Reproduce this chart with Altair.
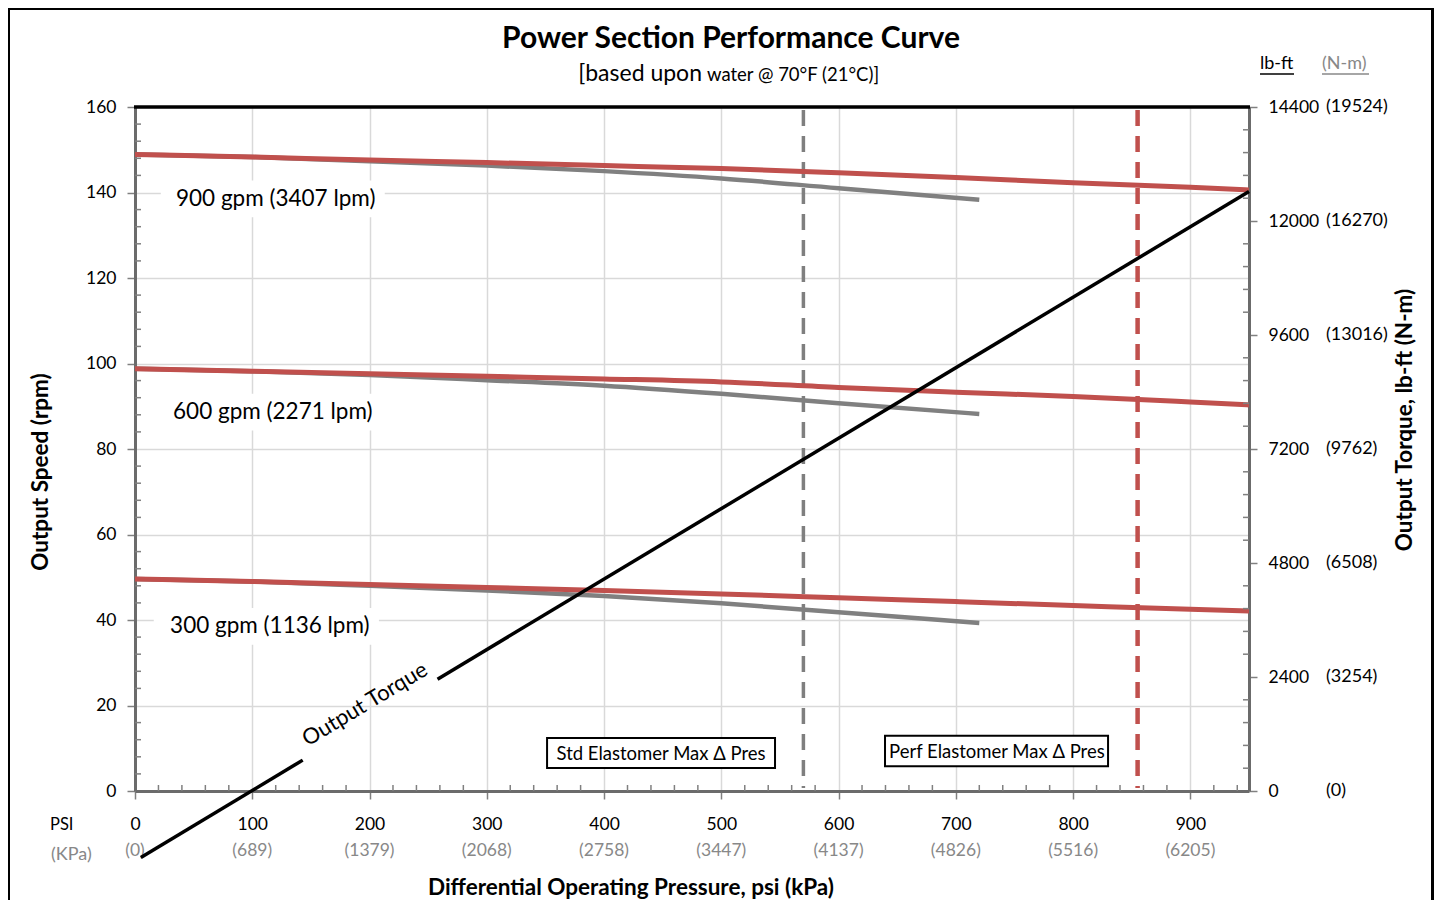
import altair as alt
import pandas as pd

# ---------------- data ----------------
psi_perf = [0, 100, 200, 300, 400, 500, 600, 700, 800, 900, 950]
perf_900 = [148.9, 148.3, 147.6, 147.0, 146.3, 145.6, 144.6, 143.5, 142.3, 141.2, 140.6]
perf_600 = [98.8, 98.2, 97.6, 97.0, 96.4, 95.7, 94.4, 93.3, 92.3, 91.0, 90.3]
perf_300 = [49.6, 49.0, 48.3, 47.6, 46.9, 46.1, 45.2, 44.3, 43.4, 42.5, 42.1]

psi_std = [0, 100, 200, 300, 400, 500, 600, 720]
std_900 = [148.9, 148.3, 147.3, 146.3, 145.0, 143.3, 141.0, 138.3]
std_600 = [98.8, 98.2, 97.3, 96.1, 94.8, 92.9, 90.7, 88.2]
std_300 = [49.6, 49.0, 48.0, 46.9, 45.6, 43.9, 41.8, 39.3]

# torque line (lb-ft), drawn in two pieces around its label
torque_seg = ["a", "a", "b", "b"]
torque_psi = [5, 143, 258, 950]
torque_lbft = [-1400, 650, 2355, 12620]

gpm_labels = ["900 gpm (3407 lpm)", "600 gpm (2271 lpm)", "300 gpm (1136 lpm)"]
gpm_label_psi = [120, 117.5, 115]
gpm_label_rpm = [138.5, 88.6, 38.6]
gpm_box_psi = [(22, 213), (19, 210), (16, 208)]
gpm_box_rpm = [(134.2, 142.8), (84.3, 92.9), (34.2, 42.8)]

limit_names = ["Std Elastomer Max \u0394 Pres", "Perf Elastomer Max \u0394 Pres"]
limit_psi = [570, 855]
limit_colors = ["#7f7f7f", "#c0504d"]
limit_box_psi = [(351.4, 545.8), (639.6, 829.8)]
limit_box_rpm = [(5.4, 12.4), (5.8, 12.9)]
limit_text_psi = [448.6, 735]
limit_text_rpm = [8.6, 9.1]

psi_ticks = [0, 100, 200, 300, 400, 500, 600, 700, 800, 900]
kpa_labels = ["(0)", "(689)", "(1379)", "(2068)", "(2758)", "(3447)", "(4137)", "(4826)", "(5516)", "(6205)"]
rpm_ticks = [0, 20, 40, 60, 80, 100, 120, 140, 160]
torque_ticks = [0, 2400, 4800, 7200, 9600, 12000, 14400]
nm_labels = ["(0)", "(3254)", "(6508)", "(9762)", "(13016)", "(16270)", "(19524)"]

W, H = 1114, 684
FONT = "Lato"
RED = "#c0504d"
GRAY = "#808080"
LGRAY = "#888888"

# ---------------- tables ----------------
perf_df = pd.DataFrame({
    "psi": psi_perf * 3,
    "rpm": perf_900 + perf_600 + perf_300,
    "flow": ["900"] * len(psi_perf) + ["600"] * len(psi_perf) + ["300"] * len(psi_perf),
})
std_df = pd.DataFrame({
    "psi": psi_std * 3,
    "rpm": std_900 + std_600 + std_300,
    "flow": ["900"] * len(psi_std) + ["600"] * len(psi_std) + ["300"] * len(psi_std),
})
torque_df = pd.DataFrame({"seg": torque_seg, "psi": torque_psi, "tq": torque_lbft})
gpm_df = pd.DataFrame({
    "label": gpm_labels, "psi": gpm_label_psi, "rpm": gpm_label_rpm,
    "x1": [b[0] for b in gpm_box_psi], "x2": [b[1] for b in gpm_box_psi],
    "y1": [b[0] for b in gpm_box_rpm], "y2": [b[1] for b in gpm_box_rpm],
})
limit_df = pd.DataFrame({
    "name": limit_names, "psi": limit_psi, "color": limit_colors,
    "x1": [b[0] for b in limit_box_psi], "x2": [b[1] for b in limit_box_psi],
    "y1": [b[0] for b in limit_box_rpm], "y2": [b[1] for b in limit_box_rpm],
    "tx": limit_text_psi, "ty": limit_text_rpm,
})
kpa_df = pd.DataFrame({"psi": psi_ticks, "kpa": kpa_labels})
nm_df = pd.DataFrame({"tq": torque_ticks, "nm": nm_labels})
minor_psi_df = pd.DataFrame({"psi": [v for v in range(20, 950, 20) if v % 100]})
minor_rpm_df = pd.DataFrame({"rpm": [v for v in range(4, 160, 4) if v % 20]})
minor_tq_df = pd.DataFrame({"tq": [v for v in range(480, 14400, 480) if v % 2400]})
one = pd.DataFrame({"a": [0]})

xscale = alt.Scale(domain=[0, 950], nice=False, zero=False)
yscale = alt.Scale(domain=[0, 160], nice=False, zero=False)
tscale = alt.Scale(domain=[0, 14400], nice=False, zero=False)

x_axis = alt.Axis(
    values=psi_ticks, title=None, format="d", labelFont=FONT, labelFontSize=17.5,
    labelColor="black", labelBaseline="middle", labelPadding=25, labelFlush=False,
    labelOverlap=False, tickSize=8, tickColor=GRAY, tickWidth=1.5, domainColor="#6b6b6b",
    domainWidth=3, grid=True, gridColor="#d9d9d9", gridWidth=1.5,
)
y_axis = alt.Axis(
    values=rpm_ticks, title=None, format="d", labelFont=FONT, labelFontSize=17.5,
    labelColor="black", labelPadding=11, labelFlush=False, labelOverlap=False,
    tickSize=8, tickColor=GRAY, tickWidth=1.5, domainColor="#6b6b6b", domainWidth=3,
    grid=True, gridColor="#d9d9d9", gridWidth=1.5,
)
t_axis = alt.Axis(
    orient="right", values=torque_ticks, title=None, format="d", labelFont=FONT,
    labelFontSize=17.5, labelColor="black", labelAlign="left", labelPadding=11,
    labelFlush=False, labelOverlap=False, tickSize=8, tickColor=GRAY, tickWidth=1.5,
    domainColor="#6b6b6b", domainWidth=3, grid=False,
)


def X(f="psi"):
    return alt.X(f"{f}:Q", scale=xscale, axis=x_axis)


def Y(f="rpm"):
    return alt.Y(f"{f}:Q", scale=yscale, axis=y_axis)


def T(f="tq"):
    return alt.Y(f"{f}:Q", scale=tscale, axis=t_axis)


# ---------------- rpm group ----------------
label_boxes = alt.Chart(gpm_df).mark_rect(color="white").encode(
    x=X("x1"), x2="x2:Q", y=Y("y1"), y2="y2:Q",
)

limit_lines = alt.Chart(limit_df).mark_rule(strokeDash=[16, 10]).encode(
    x=X(), y=alt.value(3), y2=alt.value(H - 3),
    color=alt.Color("color:N", scale=None),
    strokeWidth=alt.condition("datum.psi > 700", alt.value(4.5), alt.value(3.5)),
)

std_lines = alt.Chart(std_df).mark_line(color=GRAY, strokeWidth=4.5, interpolate="monotone").encode(
    x=X(), y=Y(), detail="flow:N"
)
perf_lines = alt.Chart(perf_df).mark_line(color=RED, strokeWidth=5, interpolate="monotone").encode(
    x=X(), y=Y(), detail="flow:N"
)
gpm_text = alt.Chart(gpm_df).mark_text(font=FONT, fontSize=22.5, color="black").encode(
    x=X(), y=Y(), text="label:N"
)
limit_boxes = alt.Chart(limit_df).mark_rect(fill="white", stroke="black", strokeWidth=2).encode(
    x=X("x1"), x2="x2:Q", y=Y("y1"), y2="y2:Q"
)
limit_text = alt.Chart(limit_df).mark_text(font=FONT, fontSize=18.5, color="black").encode(
    x=X("tx"), y=Y("ty"), text="name:N"
)
torque_label = alt.Chart(pd.DataFrame({"t": ["Output Torque"], "psi": [196], "rpm": [20.3]})).mark_text(
    font=FONT, fontSize=22, color="black", angle=329
).encode(x=X(), y=Y(), text="t:N")

minor_x = alt.Chart(minor_psi_df).mark_rule(color=GRAY, strokeWidth=1.5).encode(
    x=X(), y=alt.value(H - 6), y2=alt.value(H)
)
minor_y = alt.Chart(minor_rpm_df).mark_rule(color=GRAY, strokeWidth=1.5).encode(
    y=Y(), x=alt.value(0), x2=alt.value(6)
)
top_border = alt.Chart(one).mark_rule(color="black", strokeWidth=3.5).encode(
    y=alt.value(0), x=alt.value(-1), x2=alt.value(W + 1)
)
frame = alt.Chart(one).mark_rect(fillOpacity=0, stroke="black", strokeWidth=3).encode(
    x=alt.value(-126.5), x2=alt.value(W + 183.5), y=alt.value(-98.5), y2=alt.value(H + 200)
)


def txt(s, x, y, size, color="black", weight="normal", align="center", angle=0, baseline="middle"):
    kw = dict(font=FONT, fontSize=size, color=color, fontWeight=weight, align=align,
              baseline=baseline)
    if angle:
        kw["angle"] = angle
    return alt.Chart(pd.DataFrame({"t": [s]})).mark_text(**kw).encode(
        text="t:N", x=alt.value(x), y=alt.value(y)
    )


title = txt("Power Section Performance Curve", 596, -59, 30, weight="bold", baseline="alphabetic")
sub1 = txt("[based upon", 567, -26, 23, align="right", baseline="alphabetic")
sub2 = txt("water @ 70\u00b0F (21\u00b0C)]", 572, -26, 18.5, align="left", baseline="alphabetic")
ytitle = txt("Output Speed (rpm)", -94, 365, 22.5, weight="bold", angle=270)
t_title = txt("Output Torque, lb-ft (N-m)", 1270, 313, 22.5, weight="bold", angle=270)
xtitle = txt("Differential Operating Pressure, psi (kPa)", 496, 781, 22.5, weight="bold")
psi_lab = txt("PSI", -85, 718, 16.5, align="left")
kpa_lab = txt("(KPa)", -84, 748, 18, color=LGRAY, align="left")
lbft_head = txt("lb-ft", 1125, -43, 18, align="left")
nm_head = txt("(N-m)", 1187, -43, 18, color=LGRAY, align="left")
under1 = alt.Chart(one).mark_rule(color="black", strokeWidth=1.5).encode(
    x=alt.value(1125), x2=alt.value(1159), y=alt.value(-33)
)
under2 = alt.Chart(one).mark_rule(color=LGRAY, strokeWidth=1.5).encode(
    x=alt.value(1187), x2=alt.value(1234), y=alt.value(-33)
)
kpa_text = alt.Chart(kpa_df).mark_text(font=FONT, fontSize=17.5, color=LGRAY).encode(
    x=X(), y=alt.value(744), text="kpa:N"
)

rpm_group = alt.layer(
    label_boxes, limit_lines, std_lines, perf_lines, gpm_text, limit_boxes, limit_text,
    torque_label, minor_x, minor_y, top_border, frame, title, sub1, sub2, ytitle, t_title,
    xtitle, psi_lab, kpa_lab, lbft_head, nm_head, under1, under2, kpa_text,
)

# ---------------- torque group ----------------
torque_line = alt.Chart(torque_df).mark_line(color="black", strokeWidth=3.5, clip=False).encode(
    x=X(), y=T(), detail="seg:N"
)
minor_t = alt.Chart(minor_tq_df).mark_rule(color=GRAY, strokeWidth=1.5).encode(
    y=T(), x=alt.value(W - 6), x2=alt.value(W)
)
nm_text = alt.Chart(nm_df).mark_text(font=FONT, fontSize=18, color="black", align="left").encode(
    y=T(), x=alt.value(1191), text="nm:N"
)
torque_group = alt.layer(torque_line, minor_t, nm_text)

chart = alt.layer(rpm_group, torque_group).resolve_scale(y="independent").properties(
    width=W, height=H,
    padding={"left": 127, "top": 99, "right": 185, "bottom": 109},
    autosize=alt.AutoSizeParams(type="none"),
    background="white",
).configure_view(stroke=None)

chart.save("out.html", embed_options={"renderer": "svg", "actions": False})
